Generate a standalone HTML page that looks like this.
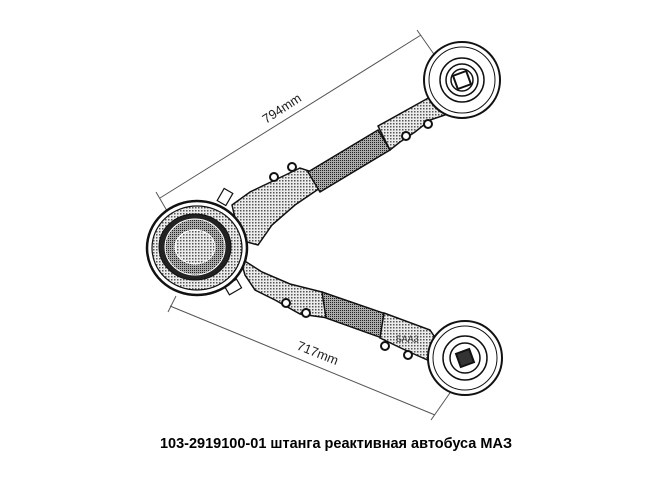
<!DOCTYPE html>
<html><head><meta charset="utf-8"><style>
html,body{margin:0;padding:0;background:#fff;width:672px;height:495px;overflow:hidden}
svg{display:block}
</style></head><body>
<svg width="672" height="495" viewBox="0 0 672 495" xmlns="http://www.w3.org/2000/svg">
<defs>
<pattern id="dot" width="3" height="3" patternUnits="userSpaceOnUse"><rect width="3" height="3" fill="#ececec"/><rect width="1.5" height="1.5" fill="#555"/></pattern>
<pattern id="dot2" width="2" height="2" patternUnits="userSpaceOnUse"><rect width="2" height="2" fill="#aaa"/><rect width="1" height="1" fill="#222"/></pattern>
</defs>
<text x="0" y="3" font-family="Liberation Sans, sans-serif" font-size="9" fill="#555">ʼ ʼ ʼ ʼ ʼ ʼ ʼ ʼ ʼ ʼ ʼ ʼ ʼ ʼ ʼ ʼ ʼ ʼ ʼ ʼ ʼ ʼ ʼ ʼ ʼ ʼ ʼ ʼ ʼ ʼ ʼ ʼ ʼ</text>

<g stroke="#555" stroke-width="1" fill="none">
<line x1="160" y1="198" x2="421" y2="35"/>
<line x1="156" y1="192" x2="170" y2="216"/>
<line x1="417" y1="30" x2="438" y2="60"/>
<line x1="170" y1="306" x2="435" y2="415"/>
<line x1="168" y1="312" x2="176" y2="296"/>
<line x1="431" y1="420" x2="452" y2="390"/>
</g>
<text x="0" y="0" transform="translate(266,124) rotate(-33)" font-family="Liberation Sans, sans-serif" font-size="13" fill="#222">794mm</text>
<text x="0" y="0" transform="translate(296,349) rotate(22)" font-family="Liberation Sans, sans-serif" font-size="13" fill="#222">717mm</text>

<g stroke="#111" stroke-width="1.5">
<!-- upper arm -->
<path d="M232,205 L250,192 L275,180 L300,168 L312,172 L320,188 L295,205 L272,225 L258,245 L240,240 Z" fill="url(#dot)"/>
<path d="M308,172 L378,130 L390,150 L320,192 Z" fill="url(#dot2)"/>
<path d="M378,126 L432,96 L445,115 L430,120 L415,132 L400,142 L390,150 Z" fill="url(#dot)"/>
<!-- lower arm -->
<path d="M240,258 L262,272 L290,284 L322,292 L328,318 L300,314 L275,300 L255,290 L245,275 Z" fill="url(#dot)"/>
<path d="M322,292 L386,314 L382,338 L326,318 Z" fill="url(#dot2)"/>
<path d="M384,313 L430,330 L440,345 L432,362 L405,350 L380,338 Z" fill="url(#dot)"/>
</g>
<text x="396" y="342" font-family="Liberation Sans, sans-serif" font-size="9" fill="#333">БАА3</text>
<g fill="#fff" stroke="#111" stroke-width="2">
<circle cx="274" cy="177" r="4"/><circle cx="292" cy="167" r="4"/>
<circle cx="406" cy="136" r="4"/><circle cx="428" cy="124" r="4"/>
<circle cx="286" cy="303" r="4"/><circle cx="306" cy="313" r="4"/>
<circle cx="385" cy="346" r="4"/><circle cx="408" cy="355" r="4"/>
</g>
<g fill="#fff" stroke="#111" stroke-width="1.2">
<rect x="220" y="190" width="10" height="14" transform="rotate(30 225 197)"/>
<rect x="228" y="280" width="10" height="14" transform="rotate(60 233 287)"/>
</g>

<g stroke="#111">
<ellipse cx="197" cy="248" rx="50" ry="47" fill="#fff" stroke-width="2.5"/>
<ellipse cx="197" cy="248" rx="45" ry="42" fill="url(#dot)" stroke-width="1.2"/>
<ellipse cx="195" cy="247" rx="36" ry="33" fill="#222" stroke-width="1"/>
<ellipse cx="195" cy="247" rx="30" ry="28" fill="url(#dot2)" stroke="#fff" stroke-width="1"/>
<ellipse cx="195" cy="247" rx="20" ry="17" fill="url(#dot)" stroke="#fff" stroke-width="1"/>
</g>
<g stroke="#111" fill="#fff">
<circle cx="462" cy="80" r="38" stroke-width="2"/>
<circle cx="462" cy="80" r="33" stroke-width="1"/>
<circle cx="462" cy="80" r="22" stroke-width="1.5"/>
<circle cx="462" cy="80" r="16" stroke-width="1.5"/>
<circle cx="462" cy="80" r="11" stroke-width="1.5"/>
<rect x="455" y="73" width="14" height="14" stroke-width="2" transform="rotate(-20 462 80)"/>
</g>
<g stroke="#111" fill="#fff">
<circle cx="465" cy="358" r="37" stroke-width="2"/>
<circle cx="465" cy="358" r="32" stroke-width="1"/>
<circle cx="465" cy="358" r="22" stroke-width="1.5"/>
<circle cx="465" cy="358" r="15" stroke-width="1.5"/>
<rect x="458" y="351" width="14" height="14" stroke-width="2" fill="#333" transform="rotate(-20 465 358)"/>
</g>

<text x="336" y="448" text-anchor="middle" font-family="Liberation Sans, sans-serif" font-size="14.5" font-weight="bold" fill="#000">103-2919100-01 штанга реактивная автобуса МАЗ</text>
</svg>
</body></html>
